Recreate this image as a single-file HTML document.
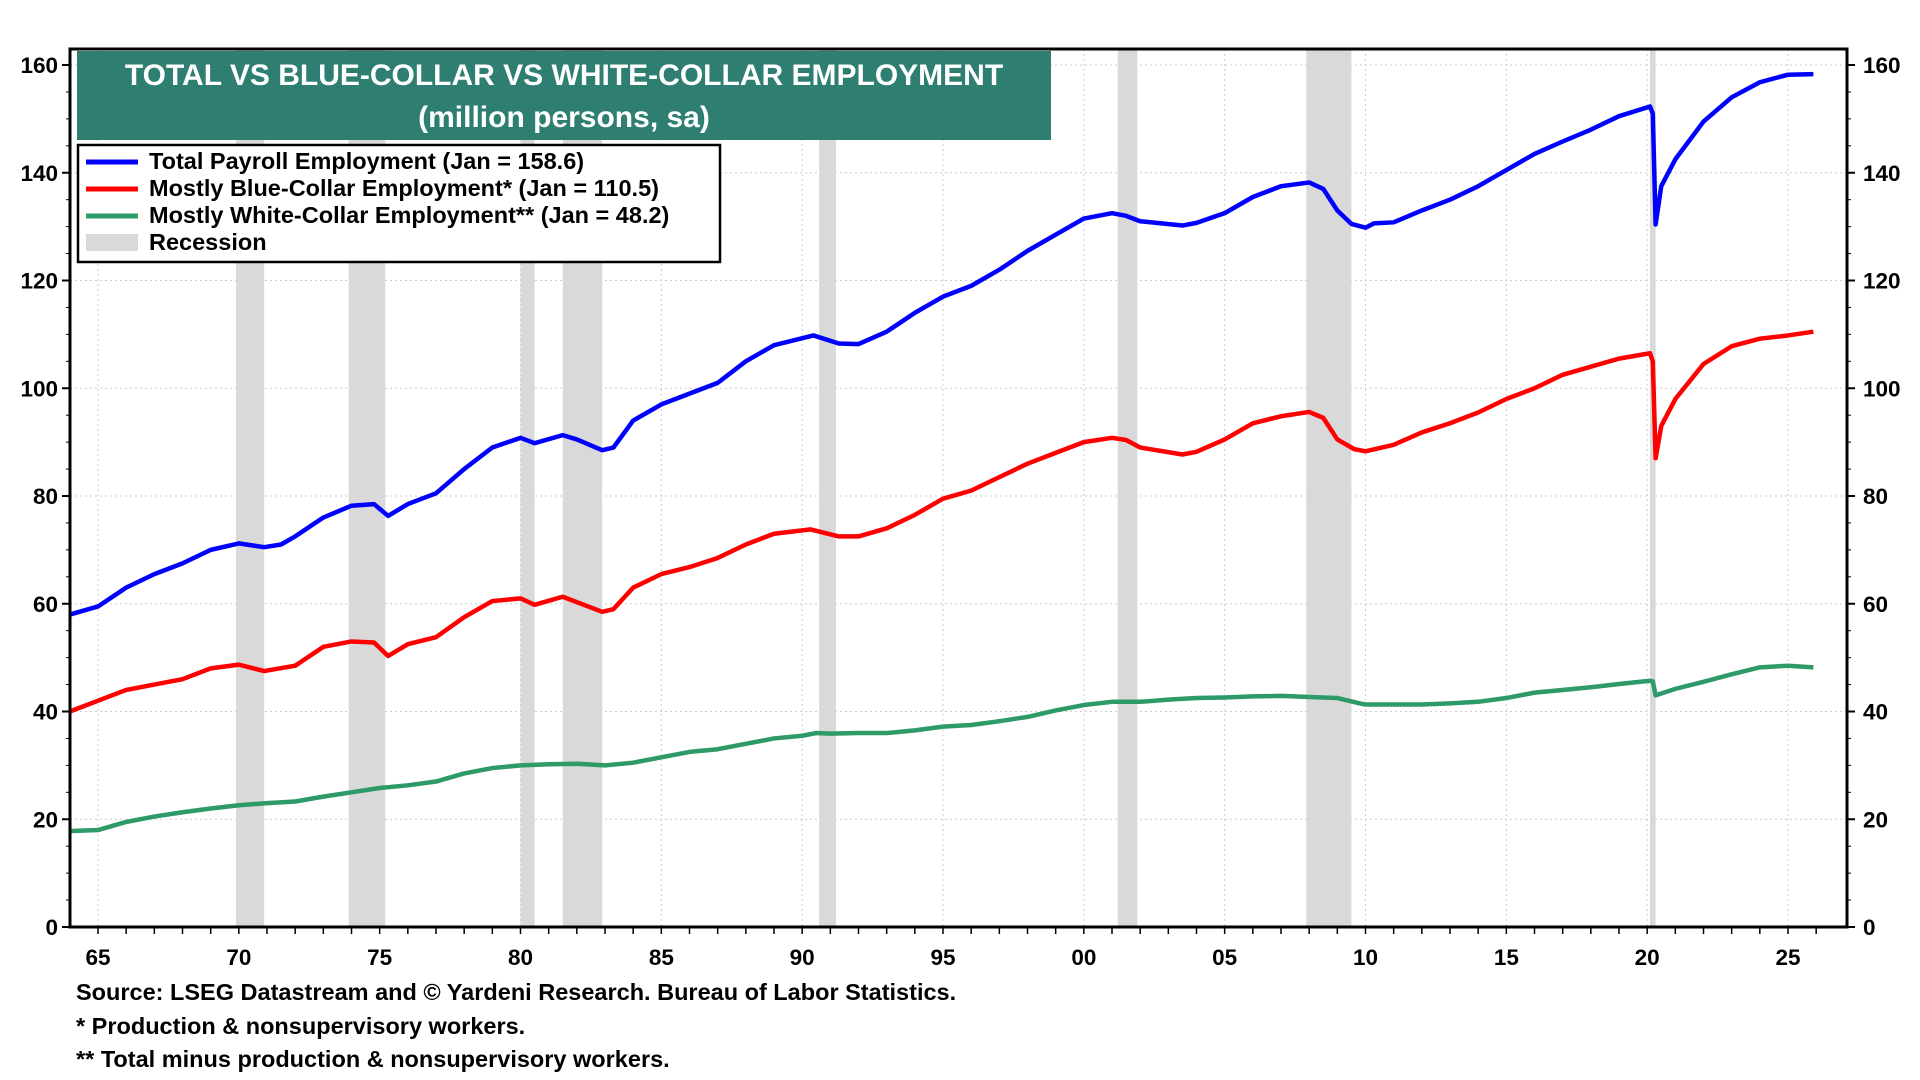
<!DOCTYPE html>
<html><head><meta charset="utf-8">
<style>
body{margin:0;background:#fff;}
svg{display:block;font-family:"Liberation Sans",Arial,sans-serif;font-weight:bold;}
</style></head>
<body>
<svg id="chart" width="1920" height="1080" viewBox="0 0 1920 1080" xmlns="http://www.w3.org/2000/svg">
<g id="grid"></g>
<g id="rec"></g>
<g id="series"></g>
<g id="axes"></g>
<g>
<rect x="77" y="51" width="974" height="89" fill="#2e7f72"/>
<text x="564" y="85" text-anchor="middle" fill="#fff" font-size="30">TOTAL VS BLUE-COLLAR VS WHITE-COLLAR EMPLOYMENT</text>
<text x="564" y="127" text-anchor="middle" fill="#fff" font-size="30">(million persons, sa)</text>
</g>
<g>
<rect x="78" y="145" width="642" height="117" fill="#fff" stroke="#000" stroke-width="2.5"/>
<g><line x1="86" y1="162" x2="138" y2="162" stroke="#0000ff" stroke-width="5"/><text x="149" y="169" font-size="23.5">Total Payroll Employment (Jan = 158.6)</text></g>
<g><line x1="86" y1="189" x2="138" y2="189" stroke="#ff0000" stroke-width="5"/><text x="149" y="196" font-size="23.5">Mostly Blue-Collar Employment* (Jan = 110.5)</text></g>
<g><line x1="86" y1="216" x2="138" y2="216" stroke="#2e9a68" stroke-width="5"/><text x="149" y="223" font-size="23.5">Mostly White-Collar Employment** (Jan = 48.2)</text></g>
<g><rect x="86" y="234" width="52" height="17" fill="#d9d9d9"/><text x="149" y="250" font-size="23.5">Recession</text></g>
</g>
<g font-size="23.5">
<text x="76" y="1000">Source: LSEG Datastream and © Yardeni Research. Bureau of Labor Statistics.</text>
<text x="76" y="1034">* Production &amp; nonsupervisory workers.</text>
<text x="76" y="1067">** Total minus production &amp; nonsupervisory workers.</text>
</g>
</svg>
<script>
const yTicks=[0,20,40,60,80,100,120,140,160];
const xTickYears=[1965,1970,1975,1980,1985,1990,1995,2000,2005,2010,2015,2020,2025];
const xTickLabels=["65","70","75","80","85","90","95","00","05","10","15","20","25"];
const recStart=[1969.9,1973.9,1980.0,1981.5,1990.6,2001.2,2007.9,2020.1];
const recEnd=[1970.9,1975.2,1980.5,1982.9,1991.2,2001.9,2009.5,2020.3];
const totalYears=[1964,1965,1966,1967,1968,1969,1970,1970.9,1971.5,1972,1973,1974,1974.8,1975.3,1976,1977,1978,1979,1980,1980.5,1981.5,1982,1982.9,1983.3,1984,1985,1986,1987,1988,1989,1990.4,1991.3,1992,1993,1994,1995,1996,1997,1998,1999,2000,2001,2001.5,2002,2003.5,2004,2005,2006,2007,2008,2008.5,2009,2009.5,2010,2010.3,2011,2012,2013,2014,2015,2016,2017,2018,2019,2020.1,2020.2,2020.3,2020.5,2021,2022,2023,2024,2025,2025.9];
const totalVals=[58,59.5,63,65.5,67.5,70,71.2,70.5,71,72.5,76,78.2,78.5,76.3,78.5,80.5,85,89,90.8,89.8,91.3,90.5,88.5,89,94,97,99,101,105,108,109.8,108.3,108.2,110.5,114,117,119,122,125.5,128.5,131.5,132.5,132,131,130.2,130.7,132.5,135.5,137.5,138.2,137,133,130.5,129.8,130.6,130.8,133,135,137.5,140.5,143.5,145.8,148,150.5,152.3,151,130.4,137.5,142.5,149.5,154,156.8,158.2,158.3];
const blueYears=[1964,1966,1967,1968,1969,1970,1970.9,1972,1973,1974,1974.8,1975.3,1976,1977,1978,1979,1980,1980.5,1981.5,1982.9,1983.3,1984,1985,1986,1987,1988,1989,1990.3,1991.3,1992,1993,1994,1995,1996,1997,1998,1999,2000,2001,2001.5,2002,2003.5,2004,2005,2006,2007,2008,2008.5,2009,2009.6,2010,2011,2012,2013,2014,2015,2016,2017,2018,2019,2020.1,2020.2,2020.3,2020.5,2021,2022,2023,2024,2025,2025.9];
const blueVals=[40,44,45,46,48,48.7,47.5,48.5,52,53,52.8,50.3,52.5,53.8,57.5,60.5,61,59.8,61.3,58.5,59,63,65.5,66.8,68.5,71,73,73.8,72.5,72.5,74,76.5,79.5,81,83.5,86,88,90,90.8,90.4,89,87.7,88.2,90.5,93.5,94.8,95.6,94.5,90.5,88.7,88.3,89.5,91.8,93.5,95.5,98,100,102.5,104,105.5,106.5,105,87,93,98,104.5,107.8,109.2,109.8,110.5];
const whiteYears=[1964,1965,1966,1967,1968,1969,1970,1971,1972,1973,1974,1975,1976,1977,1978,1979,1980,1981,1982,1983,1984,1985,1986,1987,1988,1989,1990,1990.5,1991,1992,1993,1994,1995,1996,1997,1998,1999,2000,2001,2002,2003,2004,2005,2006,2007,2008,2009,2009.8,2010,2011,2012,2013,2014,2015,2016,2017,2018,2019,2020.1,2020.2,2020.3,2021,2022,2023,2024,2025,2025.9];
const whiteVals=[17.8,18,19.5,20.5,21.3,22,22.6,23,23.3,24.2,25,25.8,26.3,27,28.5,29.5,30,30.2,30.3,30,30.5,31.5,32.5,33,34,35,35.5,36,35.9,36,36,36.5,37.2,37.5,38.2,39,40.2,41.2,41.8,41.8,42.2,42.5,42.6,42.8,42.9,42.7,42.5,41.5,41.3,41.3,41.3,41.5,41.8,42.5,43.5,44,44.5,45.1,45.7,45.6,43,44.2,45.5,46.9,48.2,48.5,48.2];

const L=70,R=1847,T=49,B=927;
const x=yr=>98+(yr-1965)*(1788-98)/60;
const y=v=>927-v*(927-65)/160;
const NS="http://www.w3.org/2000/svg";
function mk(tag,attrs,parent){const e=document.createElementNS(NS,tag);for(const k in attrs)e.setAttribute(k,attrs[k]);parent.appendChild(e);return e;}
const grid=document.getElementById('grid'),rec=document.getElementById('rec'),ser=document.getElementById('series'),axes=document.getElementById('axes');
yTicks.forEach(v=>{
  const g=mk('line',{x1:L,x2:R,y1:y(v),y2:y(v),stroke:'#ccc','stroke-width':1,'stroke-dasharray':'2,3'},grid);
  
  
  const t1=mk('text',{x:L-12,y:y(v)+8,'text-anchor':'end','font-size':22.5},axes);t1.textContent=v;
  
  
  const t2=mk('text',{x:R+16,y:y(v)+8,'text-anchor':'start','font-size':22.5},axes);t2.textContent=v;
  
  
  mk('line',{x1:L-8,x2:L,y1:y(v),y2:y(v),stroke:'#000','stroke-width':2},axes);
  mk('line',{x1:R,x2:R+8,y1:y(v),y2:y(v),stroke:'#000','stroke-width':2},axes);
});
for(let v=0;v<=160;v+=5){mk('line',{x1:L-4,x2:L,y1:y(v),y2:y(v),stroke:'#000','stroke-width':1},axes);mk('line',{x1:R,x2:R+4,y1:y(v),y2:y(v),stroke:'#000','stroke-width':1},axes);}
xTickYears.forEach((yr,i)=>{
  const g=mk('line',{x1:x(yr),x2:x(yr),y1:T,y2:B,stroke:'#ccc','stroke-width':1,'stroke-dasharray':'2,3'},grid);
  
  
  const t=mk('text',{x:x(yr),y:B+38,'text-anchor':'middle','font-size':22.5},axes);t.textContent=xTickLabels[i];
  
  
});
for(let yr=1965;yr<=2026;yr++){mk('line',{x1:x(yr),x2:x(yr),y1:B,y2:B+7,stroke:'#000','stroke-width':1.5},axes);}
recStart.forEach((s,i)=>{
  const r=mk('rect',{x:x(s),y:T,width:Math.max(3,x(recEnd[i])-x(s)),height:B-T,fill:'#d9d9d9'},rec);
  
  
});
function line(ys,vs,color,name){
  const p=mk('polyline',{points:ys.map((yr,i)=>x(yr)+','+y(vs[i])).join(' '),fill:'none',stroke:color,'stroke-width':4.5,'stroke-linejoin':'round'},ser);
  
  
}
line(whiteYears,whiteVals,'#2e9a68','white-collar-line');
line(blueYears,blueVals,'#ff0000','blue-collar-line');
line(totalYears,totalVals,'#0000ff','total-payroll-line');
const frame=mk('rect',{x:L,y:T,width:R-L,height:B-T,fill:'none',stroke:'#000','stroke-width':3},axes);


</script>
</body></html>
